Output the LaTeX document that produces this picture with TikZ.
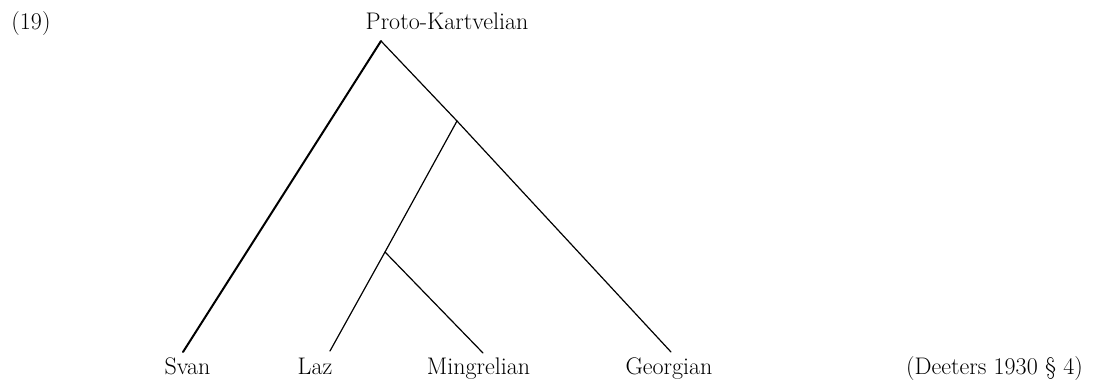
\documentclass[tikz,border=0pt]{standalone}
\begin{document}
\begin{tikzpicture}[x=1pt,y=1pt,
  lbl/.style={font=\fontsize{24}{28}\selectfont, inner sep=0pt, anchor=base},
  branch/.style={line width=1.2pt, line cap=round},
  thick branch/.style={line width=2pt, line cap=round}]
\useasboundingbox (0,0) rectangle (1112,384);
% labels
\node[lbl] (num) at (31,355) {(19)};
\node[lbl] (root) at (447,355) {Proto-Kartvelian};
\node[lbl] (svan) at (187.5,10) {Svan};
\node[lbl] (laz) at (315,10) {Laz};
\node[lbl] (ming) at (478.5,10) {Mingrelian};
\node[lbl] (geo) at (669,10) {Georgian};
\node[lbl] (src) at (994.5,10) {(Deeters 1930 \S\ 4)};
% junctions and ends
\coordinate (apex) at (381,343);
\coordinate (b1) at (457,263);
\coordinate (b2) at (385,132);
\coordinate (svanEnd) at (183,32);
\coordinate (lazEnd) at (330,33);
\coordinate (mingEnd) at (483,31);
\coordinate (geoEnd) at (671,32);
% branches
\draw[thick branch] (apex) -- (svanEnd);
\draw[branch] (apex) -- (b1) -- (geoEnd);
\draw[branch] (b1) -- (b2) -- (lazEnd);
\draw[branch] (b2) -- (mingEnd);
\end{tikzpicture}
\end{document}
